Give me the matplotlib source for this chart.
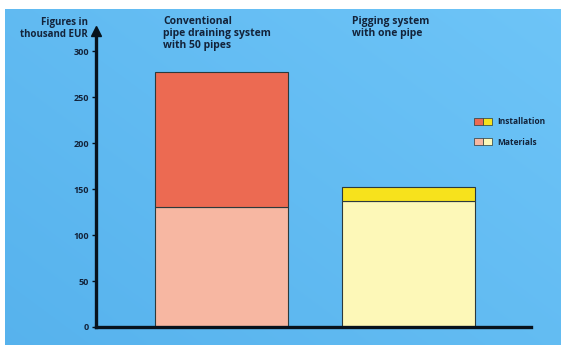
import numpy as np
import matplotlib
matplotlib.use("Agg")
import matplotlib.pyplot as plt
from matplotlib.patches import Patch
from matplotlib.legend_handler import HandlerTuple


# ============================================================
# 数据
# ============================================================
categories = ["Conventional\npipe draining system\nwith 50 pipes",
              "Pigging system\nwith one pipe"]
materials = [130, 137]
installation = [147, 15]
y_ticks = [0, 50, 100, 150, 200, 250, 300]
y_title = "Figures in\nthousand EUR"

# 颜色
top_colors = ["#ec6a52", "#f7e21c"]
bottom_colors = ["#f7b7a2", "#fdf8b8"]
ink = "#13233a"
axis_color = "#07121c"

W, H = 561, 345
fig = plt.figure(figsize=(W / 100, H / 100), dpi=100, facecolor="white")
plt.rcParams["font.family"] = ["Open Sans", "DejaVu Sans"]


def px(x0, y0, x1, y1):
    # 像素坐标 (左上原点) -> figure 坐标
    return [x0 / W, 1 - y1 / H, (x1 - x0) / W, (y1 - y0) / H]


# ------------------------------------------------------------
# 背景：浅蓝渐变
# ------------------------------------------------------------
bg = fig.add_axes(px(5, 9, W, H))
grad = np.linspace(0, 1, 256)
gx, gy = np.meshgrid(grad, grad)
mix = 0.55 * gx + 0.45 * (1 - gy)
c0 = np.array([0.34, 0.70, 0.93])
c1 = np.array([0.43, 0.77, 0.97])
img = c0[None, None, :] * (1 - mix[..., None]) + c1[None, None, :] * mix[..., None]
bg.imshow(img, aspect="auto", extent=[0, 1, 0, 1])
bg.axis("off")

# ------------------------------------------------------------
# 主坐标轴
# ------------------------------------------------------------
ax = fig.add_axes(px(96, 31, 531, 327))
ax.patch.set_visible(False)

x = np.arange(len(categories))
bar_w = 0.706
ax.bar(x, materials, width=bar_w, color=bottom_colors,
       edgecolor="#2c3a3c", linewidth=0.8, zorder=2)
ax.bar(x, installation, width=bar_w, bottom=materials, color=top_colors,
       edgecolor="#2c3a3c", linewidth=0.8, zorder=2)

ax.set_xlim(-0.671, 1.655)
ax.set_ylim(0, 322)

for s in ["top", "right"]:
    ax.spines[s].set_visible(False)
for s in ["left", "bottom"]:
    ax.spines[s].set_color(axis_color)
    ax.spines[s].set_linewidth(2.4)
    ax.spines[s].set_zorder(3)

ax.set_xticks([])
ax.set_yticks(y_ticks)
ax.set_yticklabels([str(v) for v in y_ticks])
ax.tick_params(axis="y", length=3, width=1.0, color=axis_color,
               labelsize=6.5, labelcolor=ink, pad=2)
for lab in ax.get_yticklabels():
    lab.set_fontweight("bold")

# 轴顶端箭头
ax.plot(0, 1, marker="^", markersize=7, color=axis_color,
        transform=ax.transAxes, clip_on=False, zorder=4)

# 轴标题
fig.text(88 / W, 1 - 17 / H, y_title, ha="right", va="top",
         fontsize=7, fontweight="bold", color=ink, linespacing=1.1)

# 柱子标题
title_x = [163, 352]
for tx, label in zip(title_x, categories):
    fig.text(tx / W, 1 - 16 / H, label, ha="left", va="top",
             fontsize=7.5, fontweight="bold", color=ink, linespacing=1.12)

# ------------------------------------------------------------
# 图例：双色色块
# ------------------------------------------------------------
handles = [
    (Patch(facecolor=top_colors[0], edgecolor="#2c3a3c", linewidth=0.5),
     Patch(facecolor=top_colors[1], edgecolor="#2c3a3c", linewidth=0.5)),
    (Patch(facecolor=bottom_colors[0], edgecolor="#2c3a3c", linewidth=0.5),
     Patch(facecolor=bottom_colors[1], edgecolor="#2c3a3c", linewidth=0.5)),
]
leg = fig.legend(handles, ["Installation", "Materials"],
                 handler_map={tuple: HandlerTuple(ndivide=None, pad=0)},
                 loc="upper left", bbox_to_anchor=(474 / W, 1 - 117 / H),
                 frameon=False, fontsize=6, handlelength=2.2,
                 handleheight=0.9, handletextpad=0.6, labelspacing=1.4,
                 borderpad=0, borderaxespad=0)
for t in leg.get_texts():
    t.set_color(ink)
    t.set_fontweight("bold")

fig.savefig("out.png", dpi=100, facecolor="white")
